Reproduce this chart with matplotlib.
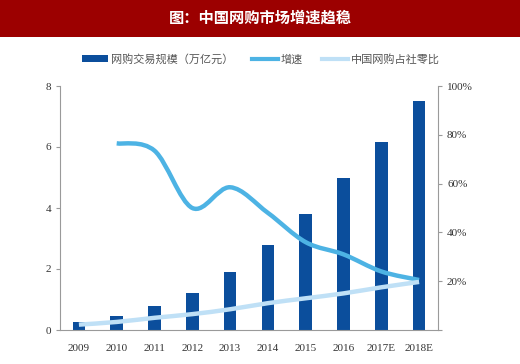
import numpy as np
import matplotlib
matplotlib.use("Agg")
import matplotlib.pyplot as plt
from matplotlib.path import Path
from matplotlib.patches import PathPatch, Patch, Rectangle
from matplotlib.lines import Line2D

years = ["2009", "2010", "2011", "2012", "2013", "2014", "2015", "2016", "2017E", "2018E"]
scale = [0.27, 0.47, 0.79, 1.22, 1.9, 2.8, 3.8, 5.0, 6.18, 7.5]          # 万亿元
growth_years = years[1:]
growth = [76.5, 73.5, 50.0, 58.5, 48.0, 36.0, 31.0, 24.0, 20.5]        # %
share = [2.2, 3.3, 5.0, 6.5, 8.5, 11.0, 13.0, 15.0, 17.5, 19.7]       # %

title = "图：中国网购市场增速趋稳"
legend_labels = ["网购交易规模（万亿元）", "增速", "中国网购占社零比"]

BAR = "#0b4e9c"
GROW = "#4db3e4"
SHARE = "#bfe0f6"
GREY = "#9a9a9a"

plt.rcParams['font.family'] = ['Liberation Serif', 'Noto Sans CJK SC', 'DejaVu Sans']


def smooth_path(xs, ys):
    # catmull-rom style smoothing, like excel's "smoothed line"
    p = np.column_stack([xs, ys]).astype(float)
    n = len(p)
    verts = [p[0]]
    codes = [Path.MOVETO]
    for i in range(n - 1):
        p0 = p[i - 1] if i > 0 else p[i]
        p3 = p[i + 2] if i + 2 < n else p[i + 1]
        c1 = p[i] + (p[i + 1] - p0) / 6
        c2 = p[i + 1] - (p3 - p[i]) / 6
        verts += [c1, c2, p[i + 1]]
        codes += [Path.CURVE4] * 3
    return Path(verts, codes)


fig = plt.figure(figsize=(5.2, 3.64), dpi=100)
fig.patch.set_facecolor("white")

# title banner
fig.patches.append(Rectangle((0, 1 - 37 / 364), 1, 37 / 364, transform=fig.transFigure,
                             facecolor="#9c0000", edgecolor="none", zorder=0))
fig.text(0.5, 1 - 18 / 364, title, color="white", ha="center", va="center",
         fontsize=11, fontweight="bold", family=['Noto Sans CJK SC'])

ax = fig.add_axes([60 / 520, 1 - 330 / 364, 378 / 520, 244 / 364])
x = np.arange(len(years))
ax.bar(x, scale, width=0.33, color=BAR, zorder=2)
ax.set_xlim(-0.5, len(years) - 0.5)
ax.set_ylim(0, 8)
ax.set_yticks([0, 2, 4, 6, 8])
ax.set_xticks(x)
ax.set_xticklabels(years)

ax2 = ax.twinx()
ax2.set_ylim(0, 100)
ax2.set_yticks([0, 20, 40, 60, 80, 100])
ax2.set_yticklabels(["", "20%", "40%", "60%", "80%", "100%"])

gx = np.arange(1, len(years))
ax2.add_patch(PathPatch(smooth_path(gx, growth), facecolor="none", edgecolor=GROW,
                        lw=3.2, capstyle="butt", zorder=3))
ax2.add_patch(PathPatch(smooth_path(x, share), facecolor="none", edgecolor=SHARE,
                        lw=3.2, capstyle="butt", zorder=4))

for a in (ax, ax2):
    for s in a.spines.values():
        s.set_color(GREY)
    a.spines["top"].set_visible(False)
    a.tick_params(colors=GREY, labelcolor="#333333", labelsize=8, length=3, width=0.8)
ax.spines["right"].set_visible(False)
ax2.spines["left"].set_visible(False)
ax2.spines["bottom"].set_visible(False)
ax.tick_params(axis="x", length=0, pad=10)

handles = [Patch(facecolor=BAR, edgecolor="none"),
           Line2D([], [], color=GROW, lw=3),
           Line2D([], [], color=SHARE, lw=3)]
fig.legend(handles, legend_labels, loc="center", bbox_to_anchor=(261 / 520, 1 - 59 / 364),
           ncol=3, frameon=False, handlelength=2.3, handleheight=0.5, columnspacing=1.7,
           handletextpad=0.3, prop={"family": ['Noto Sans CJK SC'], "size": 8},
           labelcolor="#555555")

fig.savefig("out.png", dpi=100)
